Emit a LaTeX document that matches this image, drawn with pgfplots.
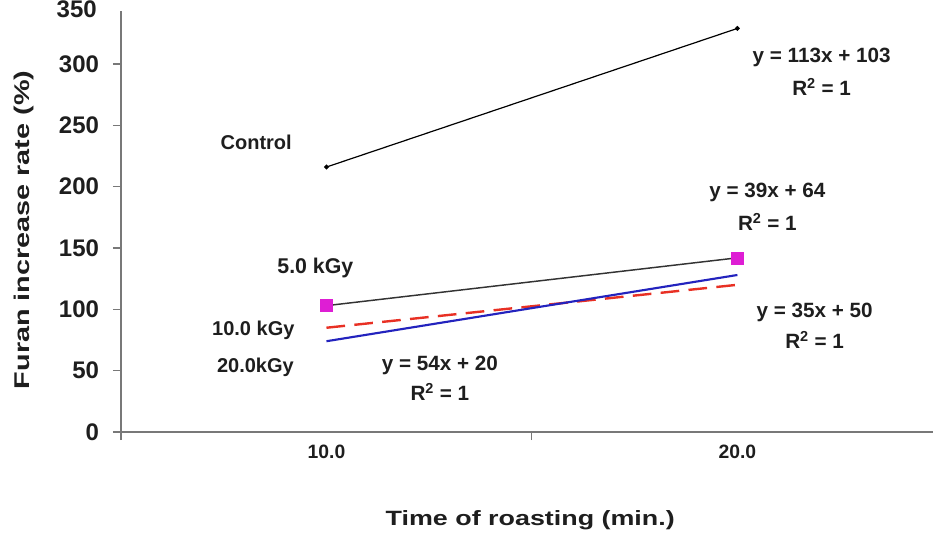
\documentclass[border=0pt]{standalone}
\usepackage{fontspec}
\setmainfont{Liberation Sans}
\usepackage{graphicx}
\usepackage{pgfplots}
\pgfplotsset{compat=1.18}
\definecolor{mag}{RGB}{222,30,212}
\definecolor{blu}{RGB}{35,35,190}
\definecolor{redd}{RGB}{232,48,36}
\definecolor{txt}{RGB}{30,30,30}
\definecolor{axgray}{RGB}{120,120,120}
\begin{document}
\begin{tikzpicture}
\useasboundingbox (0,0) rectangle (699.75pt,402.75pt);
\begin{axis}[
  at={(90.75pt,78.75pt)}, anchor=south west,
  scale only axis, width=609pt, height=315.75pt,
  xmin=0.5, xmax=2.476, ymin=0, ymax=343.2,
  separate axis lines,
  axis x line*=bottom, axis y line*=left,
  axis line style={draw=axgray, line width=0.8pt, -},
  tick align=outside, major tick length=6pt,
  tick style={draw=axgray, line width=0.8pt},
  /pgf/number format/assume math mode=true,
  ytick={0,50,...,300},
  yticklabel style={font=\fontsize{18}{20}\selectfont\bfseries, text=txt, xshift=-7pt},
  xtick={0.5,1.5}, xticklabels={},
  extra x ticks={1,2}, extra x tick labels={10.0,20.0},
  extra x tick style={major tick length=0pt, xticklabel style={font=\fontsize{14.5}{16}\selectfont\bfseries, text=txt, yshift=-6pt}},
  xlabel={\scalebox{1.3}[1]{Time of roasting (min.)}},
  xlabel style={font=\fontsize{15.5}{18}\selectfont\bfseries, text=txt, at={(axis description cs:0.504,-0.209)}, anchor=center},
  ylabel={\scalebox{1.35}[1]{Furan increase rate (\%)}},
  ylabel style={font=\fontsize{16}{18}\selectfont\bfseries, text=txt, at={(axis description cs:-0.1195,0.48)}, anchor=center},
  clip=false,
]
\addplot[black, line width=0.9pt, mark=*, mark size=1.3pt] coordinates {(1,216) (2,329)};
\addplot[black!80, line width=1.1pt] coordinates {(1,103) (2,142)};
\addplot[redd, line width=1.8pt, dash pattern=on 14pt off 7pt] coordinates {(1,85) (2,120)};
\addplot[blu, line width=1.6pt] coordinates {(1,74) (2,128)};
\addplot[only marks, mark=square*, mark size=4.5pt, mag] coordinates {(1,103) (2,142)};

\node[font=\fontsize{18}{20}\selectfont\bfseries, text=txt, anchor=base east, inner sep=0pt] at ([xshift=-18pt,yshift=-11.1pt]axis cs:0.5,350) {350};

\begin{scope}[every node/.style={font=\fontsize{15}{17}\selectfont\bfseries, text=txt}]
\node at (axis cs:0.829,236.4) {Control};
\node[font=\fontsize{16}{18}\selectfont\bfseries] at (axis cs:0.973,133.7) {5.0 kGy};
\node at (axis cs:0.822,83.2) {10.0 kGy};
\node at (axis cs:0.827,53) {20.0kGy};
\end{scope}
\begin{scope}[every node/.style={font=\fontsize{15.5}{17}\selectfont\bfseries, text=txt}]
\node at (axis cs:2.205,305.7) {y = 113x + 103};
\node at (axis cs:2.205,281.2) {R\textsuperscript{2} = 1};
\node at (axis cs:2.073,195.6) {y = 39x + 64};
\node at (axis cs:2.073,171.2) {R\textsuperscript{2} = 1};
\node at (axis cs:2.188,97.8) {y = 35x + 50};
\node at (axis cs:2.188,75) {R\textsuperscript{2} = 1};
\node at (axis cs:1.276,54.6) {y = 54x + 20};
\node at (axis cs:1.276,32.6) {R\textsuperscript{2} = 1};
\end{scope}
\end{axis}
\end{tikzpicture}
\end{document}
